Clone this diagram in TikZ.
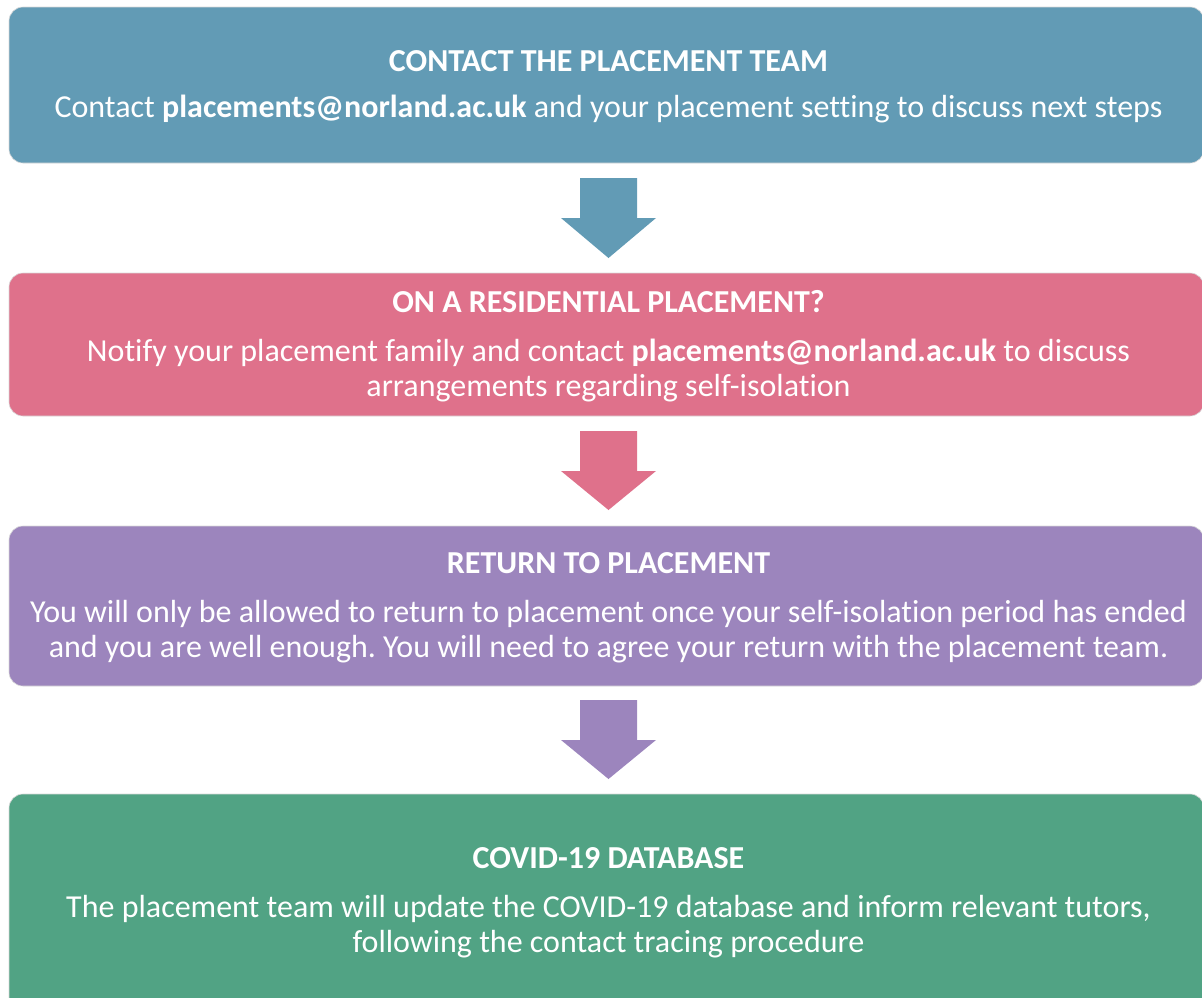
\documentclass[tikz,border=0pt]{standalone}
\usepackage{fontspec}
\setmainfont{Carlito}[Ligatures={NoCommon,NoRequired,NoContextual}]
\frenchspacing
\definecolor{cblue}{HTML}{629BB5}
\definecolor{cpink}{HTML}{DF718B}
\definecolor{cpurple}{HTML}{9C85BD}
\definecolor{cgreen}{HTML}{51A384}
\tikzset{
  box/.style={rounded corners=14pt, draw=white!85!black, line width=0.6pt},
  txt/.style={anchor=base, text=white, inner sep=0pt, font=\fontsize{32}{35}\selectfont},
  ttl/.style={txt, font=\fontsize{32}{35}\selectfont\bfseries}
}
\begin{document}
\begin{tikzpicture}[x=1pt,y=-1pt]
\useasboundingbox (0,0) rectangle (1202,997);
\clip (0,0) rectangle (1202,997);
% boxes
\path[box, fill=cblue] (9,7) rectangle (1204,163);
\path[box, fill=cpink] (9,273) rectangle (1204,416);
\path[box, fill=cpurple] (9,526) rectangle (1204,686);
\path[box, fill=cgreen] (9,794) rectangle (1204,1020);
% arrows
\fill[cblue] (580,178) -- (637,178) -- (637,218) -- (656,218) -- (608.5,258) -- (561,218) -- (580,218) -- cycle;
\fill[cpink] (580,431) -- (637,431) -- (637,471) -- (656,471) -- (608.5,510) -- (561,471) -- (580,471) -- cycle;
\fill[cpurple] (580,700) -- (637,700) -- (637,740) -- (656,740) -- (608.5,779) -- (561,740) -- (580,740) -- cycle;
% texts
\node[ttl] (t1) at (608.5,71) {CONTACT THE PLACEMENT TEAM};
\node[txt] (t1a) at (608.5,117) {Contact \textbf{placements@norland.ac.uk} and your placement setting to discuss next steps};
\node[ttl] (t2) at (608.5,312) {ON A RESIDENTIAL PLACEMENT?};
\node[txt] (t2a) at (608.5,361) {Notify your placement family and contact \textbf{placements@norland.ac.uk} to discuss};
\node[txt] (t2b) at (608.5,396) {arrangements regarding self-isolation};
\node[ttl] (t3) at (608.5,573) {RETURN TO PLACEMENT};
\node[txt] (t3a) at (608.5,622) {You will only be allowed to return to placement once your self-isolation period has ended};
\node[txt] (t3b) at (608.5,657) {and you are well enough. You will need to agree your return with the placement team.};
\node[ttl] (t4) at (608.5,868) {COVID-19 DATABASE};
\node[txt] (t4a) at (608.5,917) {The placement team will update the COVID-19 database and inform relevant tutors,};
\node[txt] (t4b) at (608.5,952) {following the contact tracing procedure};
\end{tikzpicture}
\end{document}
